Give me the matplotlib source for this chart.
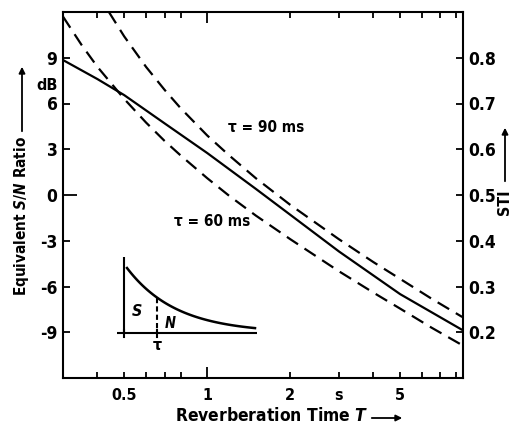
import numpy as np
import matplotlib
matplotlib.use("Agg")
import matplotlib.pyplot as plt
from matplotlib.patches import FancyArrowPatch

plt.rcParams['font.family'] = ['DejaVu Sans']
plt.rcParams['font.stretch'] = 'condensed'
plt.rcParams['mathtext.fontset'] = 'custom'
plt.rcParams['mathtext.it'] = 'DejaVu Sans:italic:bold'
plt.rcParams['mathtext.rm'] = 'DejaVu Sans:bold'

# ---------------- data ----------------
T_solid = [0.3, 0.4, 0.5, 0.7, 1.0, 1.5, 2.0, 3.0, 5.0, 8.4]
snr_solid = [8.85, 7.6, 6.55, 4.7, 2.75, 0.4, -1.3, -3.7, -6.5, -8.85]

T_60 = [0.3, 0.35, 0.4, 0.5, 0.6, 0.7, 0.8, 1.0, 1.2, 1.5, 2.0, 3.0, 4.0, 5.0, 6.5, 8.4]
snr_60 = [11.7, 9.85, 8.4, 6.3, 4.75, 3.55, 2.6, 1.1, -0.05, -1.35, -2.9, -5.0, -6.4, -7.45, -8.7, -9.85]

T_90 = [0.44, 0.5, 0.6, 0.7, 0.8, 1.0, 1.2, 1.5, 2.0, 3.0, 4.0, 5.0, 6.5, 8.4]
snr_90 = [12.0, 10.4, 8.4, 6.9, 5.7, 3.9, 2.6, 1.1, -0.65, -2.9, -4.4, -5.5, -6.8, -8.0]

left_ticks = [-9, -6, -3, 3, 6, 9]
left_labels = ['-9', '-6', '-3', '3', '6', '9']
sti_ticks = [0.2, 0.3, 0.4, 0.5, 0.6, 0.7, 0.8]
sti_labels = ['0.2', '0.3', '0.4', '0.5', '0.6', '0.7', '0.8']
x_minor = [0.4, 0.5, 0.6, 0.7, 0.8, 2, 3, 4, 5, 6, 7, 8]
x_minor_labels = ['', '0.5', '', '', '', '2', 's', '', '5', '', '', '']

# ---------------- figure ----------------
W, H = 515, 430
fig = plt.figure(figsize=(W / 100, H / 100), dpi=100)
ax = fig.add_axes([63 / W, 1 - 378 / H, 400 / W, 366 / H])

ax.set_xscale('log')
ax.set_xlim(0.3, 8.45)
ax.set_ylim(-12, 12)

lw = 1.6
ax.plot(T_solid, snr_solid, color='black', lw=lw, solid_capstyle='butt')
l60, = ax.plot(T_60, snr_60, color='black', lw=lw)
l90, = ax.plot(T_90, snr_90, color='black', lw=lw)
for l in (l60, l90):
    l.set_dashes([6.0, 3.5])

for s in ax.spines.values():
    s.set_linewidth(1.5)

TS = 11.5
# x ticks
ax.set_xticks([1], labels=['1'])
ax.set_xticks(x_minor, labels=x_minor_labels, minor=True)
ax.tick_params(axis='x', which='major', direction='in', length=8, width=1.3,
               top=True, pad=7, labelsize=TS)
ax.tick_params(axis='x', which='minor', direction='in', length=4, width=1.3,
               top=True, pad=7, labelsize=TS)
for t in ax.get_xticklabels(which='both'):
    t.set_fontweight('bold')

# y ticks (left)
ax.set_yticks([0], labels=['0'])
ax.set_yticks(left_ticks, labels=left_labels, minor=True)
ax.tick_params(axis='y', which='major', direction='in', length=10, width=1.3,
               pad=4, labelsize=TS + 1)
ax.tick_params(axis='y', which='minor', direction='in', length=5, width=1.3,
               pad=4, labelsize=TS + 1)
for t in ax.get_yticklabels(which='both'):
    t.set_fontweight('bold')

# right STI axis
ax2 = ax.twinx()
ax2.set_ylim(0.1, 0.9)
ax2.set_yticks(sti_ticks, labels=sti_labels)
ax2.tick_params(axis='y', direction='in', length=5, width=1.3, pad=4, labelsize=TS + 1)
for t in ax2.get_yticklabels():
    t.set_fontweight('bold')
for s in ax2.spines.values():
    s.set_visible(False)

# unit dB
fig.text(47 / W, 1 - 86 / H, 'dB', ha='center', va='center', fontsize=TS, fontweight='bold')

# curve labels
fig.text(228 / W, 1 - 128 / H, 'τ = 90 ms', ha='left', va='center', fontsize=11, fontweight='bold')
fig.text(174 / W, 1 - 222 / H, 'τ = 60 ms', ha='left', va='center', fontsize=11, fontweight='bold')

# axis labels with arrows
fig.text(22 / W, 1 - 216 / H, 'Equivalent $S/N$ Ratio', rotation=90, ha='center',
         va='center', fontsize=11, fontweight='bold')
fig.add_artist(FancyArrowPatch((22 / W, 1 - 134 / H), (22 / W, 1 - 64 / H),
                               transform=fig.transFigure, arrowstyle='-|>',
                               mutation_scale=9, lw=1.3, color='black'))

fig.text(175 / W, 1 - 416 / H, 'Reverberation Time $T$', ha='left', va='center',
         fontsize=12.5, fontweight='bold')
fig.add_artist(FancyArrowPatch((369 / W, 1 - 418 / H), (405 / W, 1 - 418 / H),
                               transform=fig.transFigure, arrowstyle='-|>',
                               mutation_scale=9, lw=1.3, color='black'))

fig.text(505 / W, 1 - 202 / H, 'STI', rotation=90, ha='center', va='center',
         fontsize=TS, fontweight='bold')
fig.add_artist(FancyArrowPatch((505 / W, 1 - 184 / H), (505 / W, 1 - 125 / H),
                               transform=fig.transFigure, arrowstyle='-|>',
                               mutation_scale=9, lw=1.3, color='black'))

# inset schematic (decay of impulse response)
ins = fig.add_axes([117 / W, 1 - 347 / H, 140 / W, 90 / H])
ins.set_xlim(117, 257)
ins.set_ylim(347, 257)
ins.axis('off')
ins.plot([117, 257], [333, 333], color='black', lw=1.5)
ins.plot([124, 124], [257, 333], color='black', lw=1.5)
ins.plot([124, 124], [330, 337], color='black', lw=1.5)
ins.plot([157, 157], [330, 337], color='black', lw=1.5)
xd = np.linspace(127, 255, 60)
ins.plot(xd, 333 - 65 * np.exp(-0.0202 * (xd - 127)), color='black', lw=1.8)
dv, = ins.plot([157, 157], [298, 333], color='black', lw=1.5)
dv.set_dashes([2.5, 1.5])
ins.text(137, 312, 'S', ha='center', va='center', fontsize=TS, fontstyle='italic', fontweight='bold')
ins.text(170, 324, 'N', ha='center', va='center', fontsize=TS - 1, fontstyle='italic', fontweight='bold')
ins.text(157, 345, 'τ', ha='center', va='center', fontsize=TS, fontweight='bold')

fig.savefig('out.png', dpi=100)
